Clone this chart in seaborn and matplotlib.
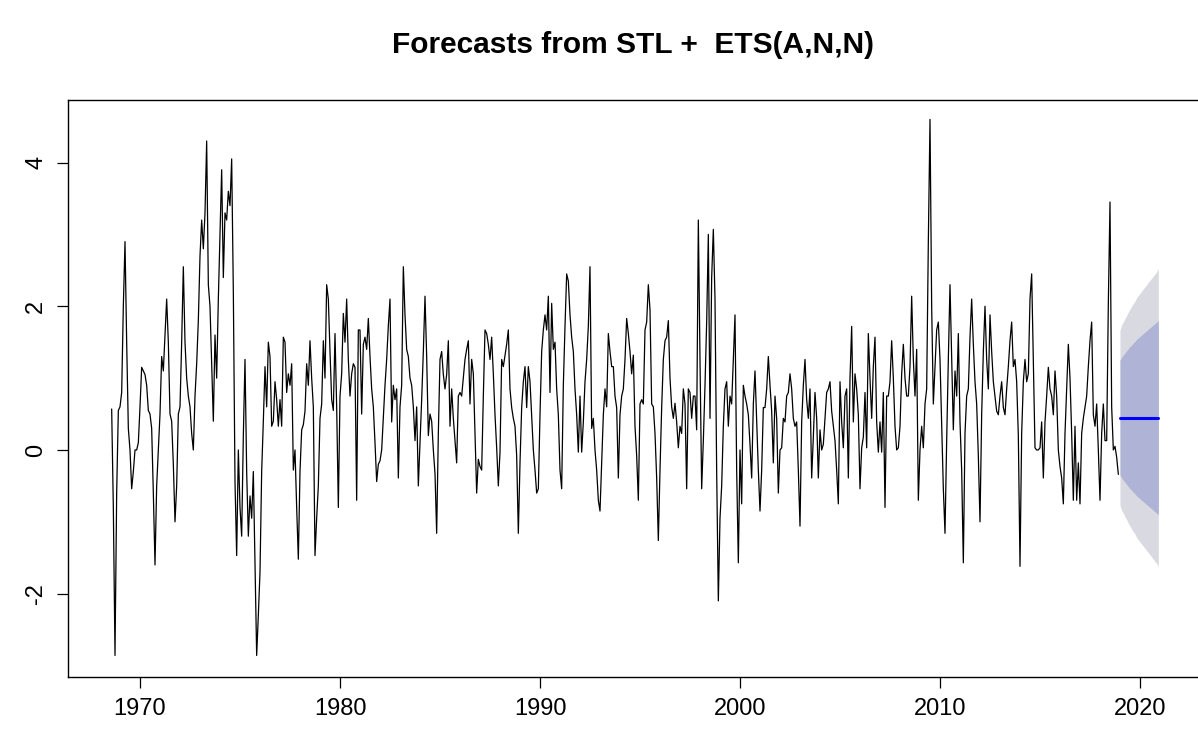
import numpy as np
import pandas as pd
import matplotlib
matplotlib.use("Agg")
import matplotlib.pyplot as plt
import seaborn as sns
from matplotlib import font_manager

# ---------------- data ----------------
start_year = 1968
start_month = 8  # August 1968, monthly series

vals_1968_1974 = [
    0.57, -0.8, -2.86, -0.6, 0.55,                                          # 1968 Aug-Dec
    0.6, 0.8, 2.0, 2.9, 1.5, 0.3, 0.0, -0.54, -0.3, 0.0, 0.0, 0.1,          # 1969
    0.6, 1.15, 1.1, 1.05, 0.9, 0.55, 0.5, 0.3, -0.6, -1.6, -0.5, 0.0,       # 1970
    0.5, 1.3, 1.1, 1.6, 2.1, 1.5, 0.5, 0.4, -0.2, -1.0, -0.5, 0.5,          # 1971
    0.6, 1.5, 2.55, 1.5, 1.0, 0.75, 0.6, 0.23, 0.0, 0.75, 1.2, 1.8,         # 1972
    2.7, 3.2, 2.8, 3.3, 4.3, 2.3, 2.0, 1.2, 0.4, 1.6, 1.0, 2.1,             # 1973
    3.0, 3.9, 2.4, 3.3, 3.2, 3.6, 3.4, 4.05, 2.2, -0.44, -1.47, 0.0,        # 1974
]
vals_1975_1984 = [
    -0.8, -1.2, 0.2, 1.26, -0.3, -1.2, -0.64, -0.95, -0.3, -1.6, -2.86, -2.3,   # 1975
    -1.7, -0.3, 0.4, 1.16, 0.6, 1.5, 1.3, 0.33, 0.4, 0.95, 0.7, 0.33,           # 1976
    0.7, 0.33, 1.57, 1.5, 0.8, 1.06, 0.9, 1.2, -0.28, 0.0, -0.8, -1.52,         # 1977
    -0.3, 0.28, 0.35, 0.54, 1.2, 0.9, 1.52, 1.0, 0.6, -1.47, -0.95, -0.5,       # 1978
    0.44, 0.64, 1.52, 1.0, 2.3, 2.1, 1.37, 0.7, 0.55, 1.62, 0.6, -0.8,          # 1979
    0.75, 1.06, 1.9, 1.5, 2.1, 1.26, 0.75, 1.06, 1.2, 1.15, -0.7, 1.67,         # 1980
    1.67, 0.5, 1.47, 1.57, 1.4, 1.83, 1.3, 0.85, 0.6, 0.1, -0.44, -0.2,         # 1981
    -0.15, 0.0, 0.44, 0.9, 1.26, 1.73, 2.1, 0.39, 0.9, 0.7, 0.85, -0.39,        # 1982
    0.6, 0.9, 2.55, 1.88, 1.4, 1.3, 1.0, 0.9, 0.6, 0.13, 0.6, -0.5,             # 1983
    0.1, 0.7, 1.37, 2.14, 1.3, 0.2, 0.5, 0.4, 0.0, -0.33, -1.16, 0.23,          # 1984
]
vals_1985_1994 = [
    1.26, 1.37, 1.05, 0.85, 1.05, 1.52, 0.33, 0.85, 0.44, 0.13, -0.18, 0.75,    # 1985
    0.8, 0.75, 1.0, 1.26, 1.4, 1.52, 0.64, 1.26, 1.06, 0.23, -0.6, -0.13,       # 1986
    -0.23, -0.28, 0.75, 1.67, 1.62, 1.47, 1.26, 1.57, 1.06, 0.49, 0.03, -0.5,   # 1987
    -0.03, 1.26, 1.16, 1.32, 1.47, 1.67, 0.85, 0.59, 0.44, 0.33, -0.08, -1.16,  # 1988
    -0.18, 0.59, 0.95, 1.16, 0.59, 1.16, 0.95, 0.49, 0.0, -0.28, -0.6, -0.54,   # 1989
    0.49, 1.37, 1.67, 1.88, 1.67, 2.14, 0.8, 2.04, 1.4, 1.5, 0.85, 0.49,        # 1990
    -0.28, -0.54, 0.9, 1.72, 2.45, 2.35, 1.88, 1.57, 1.37, 0.85, 0.49, -0.03,   # 1991
    0.75, -0.03, 0.39, 0.95, 1.26, 1.72, 2.55, 0.3, 0.44, 0.0, -0.28, -0.7,     # 1992
    -0.85, -0.2, 0.49, 0.85, 0.6, 1.62, 1.37, 1.16, 1.16, 0.75, 0.59, -0.39,    # 1993
    0.49, 0.75, 0.85, 1.26, 1.83, 1.62, 1.37, 1.06, 1.32, 0.33, -0.08, -0.7,    # 1994
]
vals_1995_2004 = [
    0.64, 0.7, 0.64, 1.67, 1.78, 2.3, 1.95, 0.64, 0.6, 0.23, -0.39, -1.26,      # 1995
    -0.28, 0.59, 1.26, 1.52, 1.57, 1.8, 1.0, 0.6, 0.44, 0.65, 0.39, 0.03,       # 1996
    0.33, 0.23, 0.85, 0.64, -0.54, 0.85, 0.8, 0.44, 0.75, 0.75, 0.28, 3.2,      # 1997
    1.26, -0.54, 0.13, 0.9, 1.78, 3.0, 0.44, 2.4, 3.07, 2.1, -0.3, -2.1,        # 1998
    -0.95, -0.5, 0.33, 0.85, 0.95, 0.33, 0.75, 0.64, 1.26, 1.88, -0.28, -1.57,  # 1999
    0.0, -0.75, 0.9, 0.75, 0.64, 0.49, 0.08, -0.39, 0.64, 1.1, 0.39, -0.28,     # 2000
    -0.85, -0.28, 0.59, 0.59, 0.85, 1.3, 0.9, 0.54, -0.18, 0.75, 0.44, -0.6,    # 2001
    0.0, 0.03, 0.44, 0.39, 0.75, 0.8, 1.06, 0.85, 0.44, 0.33, 0.39, -0.28,      # 2002
    -1.06, 0.39, 0.9, 1.26, 0.7, 0.44, 0.85, -0.39, 0.18, 0.8, 0.44, -0.39,     # 2003
    0.28, 0.0, 0.08, 0.44, 0.8, 0.85, 0.95, 0.54, 0.33, 0.13, -0.28, -0.75,     # 2004
]
vals_2005_2018 = [
    0.95, 0.39, 0.03, 0.75, 0.85, -0.39, 1.0, 1.72, 0.39, 1.06, 0.85, 0.49,     # 2005
    -0.54, 0.03, 0.18, 0.8, 0.03, 1.62, 1.0, 0.44, 1.16, 1.57, 0.39, -0.03,     # 2006
    0.39, -0.03, 0.8, -0.8, 0.75, 0.75, 0.95, 1.52, 1.0, 0.33, 0.0, 0.03,       # 2007
    0.33, 1.06, 1.47, 1.0, 0.75, 0.75, 1.16, 2.14, 1.26, 0.75, 1.4, -0.7,       # 2008
    0.0, 0.33, 0.03, 0.64, 0.85, 2.9, 4.6, 2.0, 0.64, 1.16, 1.67, 1.78,         # 2009
    1.26, 0.33, -0.54, -1.16, 0.13, 1.26, 2.3, 1.26, 0.28, 1.1, 0.75, 1.62,     # 2010
    0.39, -0.28, -1.57, 0.23, 0.75, 0.85, 1.57, 2.1, 1.47, 0.95, 0.64, -0.08,   # 2011
    -1.0, 0.49, 1.37, 2.0, 1.26, 0.85, 1.88, 1.37, 0.95, 0.75, 0.54, 0.49,      # 2012
    0.75, 0.95, 0.59, 0.49, 0.85, 1.16, 1.52, 1.78, 1.16, 1.26, 0.95, 0.2,      # 2013
    -1.62, 0.23, 0.95, 1.26, 0.95, 1.06, 2.1, 2.45, 1.26, 0.03, 0.0, 0.0,       # 2014
    0.03, 0.39, -0.39, 0.39, 0.75, 1.15, 0.85, 0.75, 0.49, 1.1, 0.75, 0.0,      # 2015
    -0.23, -0.39, -0.75, 0.23, 0.85, 1.47, 1.0, 0.23, -0.7, 0.33, -0.7, -0.18,  # 2016
    -0.75, 0.23, 0.44, 0.59, 0.75, 1.16, 1.52, 1.78, 0.49, 0.33, 0.64, 0.0,     # 2017
    -0.7, 0.23, 0.64, 0.13, 0.13, 2.04, 3.45, 0.6, 0.0, 0.05, -0.1, -0.34,      # 2018
]

# Forecast (Jan 2019 - Dec 2020)
fc_start = 2019
fc_mean = [0.45] * 24
fc_lo80 = [-0.35, -0.39, -0.42, -0.45, -0.48, -0.51, -0.54, -0.56, -0.59, -0.61, -0.64, -0.66,
           -0.68, -0.70, -0.72, -0.74, -0.76, -0.78, -0.80, -0.82, -0.84, -0.86, -0.88, -0.90]
fc_hi80 = [1.25, 1.29, 1.32, 1.35, 1.38, 1.41, 1.44, 1.46, 1.49, 1.51, 1.54, 1.56,
           1.58, 1.60, 1.62, 1.64, 1.66, 1.68, 1.70, 1.72, 1.74, 1.76, 1.78, 1.80]
fc_lo95 = [-0.77, -0.84, -0.88, -0.93, -0.97, -1.02, -1.06, -1.10, -1.14, -1.17, -1.22, -1.25,
           -1.28, -1.31, -1.34, -1.37, -1.40, -1.43, -1.46, -1.49, -1.52, -1.55, -1.58, -1.62]
fc_hi95 = [1.67, 1.74, 1.78, 1.83, 1.87, 1.92, 1.96, 2.00, 2.04, 2.07, 2.12, 2.15,
           2.18, 2.21, 2.24, 2.27, 2.30, 2.33, 2.36, 2.39, 2.42, 2.45, 2.48, 2.52]

x_ticks = [1970, 1980, 1990, 2000, 2010, 2020]
y_ticks = [-2, 0, 2, 4]
title = "Forecasts from STL +  ETS(A,N,N)"

# ---------------- frames ----------------
series = np.array(vals_1968_1974 + vals_1975_1984 + vals_1985_1994 + vals_1995_2004 + vals_2005_2018)
t = start_year + (start_month - 1) / 12 + np.arange(len(series)) / 12
df = pd.DataFrame({"time": t, "value": series})
tf = fc_start + np.arange(len(fc_mean)) / 12
fdf = pd.DataFrame({"time": tf, "mean": fc_mean})

# ---------------- style ----------------
sns.set_theme(style="white")
names = {f.name for f in font_manager.fontManager.ttflist}
fam = "Liberation Sans Narrow" if "Liberation Sans Narrow" in names else "Liberation Sans"
plt.rcParams["font.family"] = [fam, "DejaVu Sans"]
plt.rcParams["axes.unicode_minus"] = False

fig = plt.figure(figsize=(11.98, 7.51), dpi=100)
# right edge of the box sits just outside the picture, as in the reference
ax = fig.add_axes([68 / 1198, 0.0985, 1132 / 1198, 0.7683])

ax.fill_between(tf, fc_lo95, fc_hi95, color="#D9D9E1", linewidth=0)
ax.fill_between(tf, fc_lo80, fc_hi80, color="#AFB4D6", linewidth=0)
sns.lineplot(data=df, x="time", y="value", ax=ax, color="black", linewidth=0.9,
             estimator=None, sort=False)
sns.lineplot(data=fdf, x="time", y="mean", ax=ax, color="#0000FF", linewidth=2.2,
             estimator=None, sort=False)

ax.set_xlim(1966.4, 2023.0)
ax.set_ylim(-3.16, 4.87)
ax.set_xticks(x_ticks)
ax.set_xticklabels([str(v) for v in x_ticks])
ax.set_yticks(y_ticks)
ax.set_yticklabels([str(v) for v in y_ticks], rotation=90, va="center")
ax.set_xlabel("")
ax.set_ylabel("")
ax.tick_params(axis="both", direction="out", length=8, width=0.9, color="black",
               labelsize=17, labelcolor="black", pad=7, left=True, bottom=True)
for s in ax.spines.values():
    s.set_color("black")
    s.set_linewidth(1.0)
    s.set_visible(True)
ax.grid(False)

fig.text(0.528, 0.94, title, ha="center", va="center", fontsize=21.5, fontweight="bold",
         color="black")

fig.savefig("out.png", dpi=100, facecolor="white")
